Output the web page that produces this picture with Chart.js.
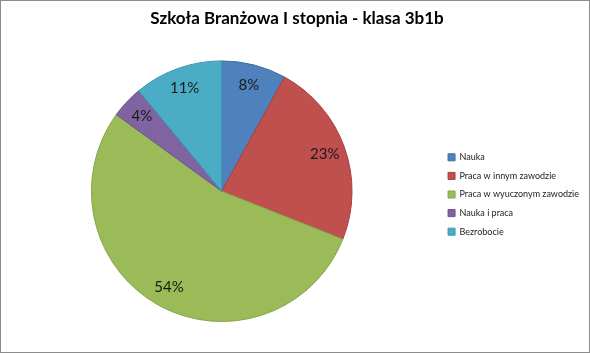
<!DOCTYPE html>
<html>
<head>
<meta charset="utf-8">
<script src="https://cdn.jsdelivr.net/npm/chart.js@4"></script>
<style>
  html, body { margin: 0; padding: 0; background: #fff; }
  .chart-box { width: 588px; height: 351px; border: 1px solid #8c8c8c; }
</style>
</head>
<body>
<div class="chart-box"><canvas id="pie" width="588" height="351"></canvas></div>
<script>
const labels = [
  'Nauka',
  'Praca w innym zawodzie',
  'Praca w wyuczonym zawodzie',
  'Nauka i praca',
  'Bezrobocie',
]
const shares = [8, 23, 54, 4, 11]
const colors = ['#4f81bd', '#c0504d', '#9bbb59', '#8064a2', '#4bacc6']
const edges = ['#3f6da3', '#a8403d', '#86a447', '#6b5290', '#3a97b0']

// percent labels drawn inside each slice
const sliceLabels = {
  id: 'sliceLabels',
  afterDatasetsDraw (chart) {
    const ctx = chart.ctx
    const meta = chart.getDatasetMeta(0)
    const total = shares.reduce((a, b) => a + b, 0)
    ctx.save()
    ctx.font = '15px Lato'
    ctx.fillStyle = '#1a1a1a'
    ctx.textAlign = 'center'
    ctx.textBaseline = 'middle'
    meta.data.forEach((arc, i) => {
      const { x, y, startAngle, endAngle, outerRadius } = arc.getProps(['x', 'y', 'startAngle', 'endAngle', 'outerRadius'], true)
      const mid = (startAngle + endAngle) / 2
      const r = outerRadius * 0.84
      ctx.fillText(Math.round(shares[i] / total * 100) + '%', x + Math.cos(mid) * r, y + Math.sin(mid) * r)
    })
    ctx.restore()
  },
}

const ctx = document.getElementById('pie').getContext('2d')

/* eslint-disable no-new */
new Chart(ctx, {
  type: 'pie',
  data: {
    labels,
    datasets: [{
      data: shares,
      backgroundColor: colors,
      borderColor: edges,
      borderWidth: 1,
    }],
  },
  options: {
    responsive: false,
    animation: false,
    layout: { padding: { left: 4, right: 0, top: 0, bottom: 30 } },
    plugins: {
      title: {
        display: true,
        text: 'Szkoła Branżowa I stopnia - klasa 3b1b',
        color: '#000',
        font: { family: 'Lato', size: 17, weight: 'bold' },
        padding: { top: 7, bottom: 32 },
      },
      legend: {
        position: 'right',
        align: 'center',
        // empty title only pushes the items down a bit
        title: {
          display: true,
          text: ' ',
          font: { family: 'Lato', size: 10 },
          padding: { top: 27, bottom: 27 },
        },
        labels: {
          boxWidth: 7,
          boxHeight: 7,
          padding: 9.6,
          color: '#222',
          font: { family: 'Lato', size: 9 },
        },
      },
      tooltip: { enabled: false },
    },
  },
  plugins: [sliceLabels],
})
</script>
</body>
</html>
